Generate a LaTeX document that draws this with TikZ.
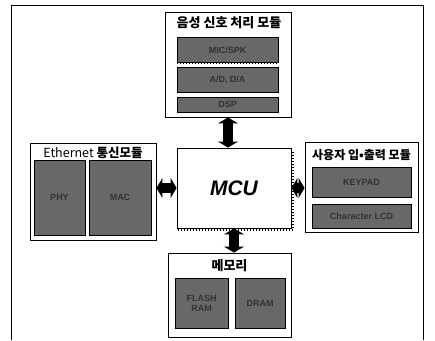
\documentclass[tikz,border=0pt]{standalone}
\usepackage{fontspec}
\setmainfont{Liberation Sans}
\newfontfamily\kr{Noto Sans CJK KR}
\usetikzlibrary{arrows.meta, positioning, calc}
\definecolor{chipgray}{HTML}{686868}

\begin{document}
\begin{tikzpicture}[x=1pt, y=-1pt,
    module/.style={draw=black, line width=0.9pt, fill=white},
    title/.style={font=\kr\bfseries\fontsize{13}{15}\selectfont},
    chip/.style={draw=black, line width=0.8pt, fill=chipgray, inner sep=1pt,
                 font=\bfseries\fontsize{9}{10}\selectfont, text=black!80, align=center},
    pins/.style={draw=black, line width=1.6pt, dash pattern=on 1.2pt off 1.8pt},
    bus/.style={line width=10pt, {Triangle[width=20pt,length=6pt]}-{Triangle[width=20pt,length=6pt]}},
]
    \useasboundingbox (0,0) rectangle (435,340);
    \draw[line width=0.8pt] (11,340) -- (11,5) -- (423,5) -- (423,340);

    % voice module
    \node[module, minimum width=126pt, minimum height=105pt] (voice) at (228,64.5) {};
    \node[title] at (229,23) {음성 신호 처리 모듈};
    \node[chip, minimum width=101pt, minimum height=25pt] (v1) at (227.5,50) {MIC/SPK};
    \node[chip, minimum width=101pt, minimum height=25pt] (v2) at (227.5,79.5) {A/D, D/A};
    \node[chip, minimum width=101pt, minimum height=15pt] (v3) at (227.5,104.5) {DSP};
    \foreach \c in {v1,v2,v3}
        \draw[pins] (\c.south west) -- (\c.south east);

    % mcu
    \node[module, minimum width=114pt, minimum height=80pt] (mcu) at (234,188) {};
    \node[font=\bfseries\itshape\fontsize{21}{24}\selectfont] at (mcu) {MCU};
    \draw[pins] ($(mcu.south west)+(1,1.5)$) -- ($(mcu.south east)+(1.5,1.5)$) -- ($(mcu.north east)+(1.5,4)$);

    % ethernet module
    \node[module, minimum width=126pt, minimum height=97pt] (eth) at (93,191.5) {};
    \node[font=\kr\fontsize{12.5}{15}\selectfont] at (93,153) {Ethernet {\bfseries 통신모듈}};
    \node[chip, minimum width=51pt, minimum height=75pt] (e1) at (59.5,197.5) {PHY};
    \node[chip, minimum width=62pt, minimum height=75pt] (e2) at (120,197.5) {MAC};
    \draw[pins] (e1.north east) -- (e1.south east);
    \draw[pins] (e2.south west) -- (e2.south east);

    % user i/o module
    \node[module, minimum width=113pt, minimum height=90pt] (io) at (361.5,187) {};
    \node[title, font=\kr\bfseries\fontsize{12}{14}\selectfont] at (361.5,155) {사용자 입•출력 모듈};
    \node[chip, minimum width=99pt, minimum height=30pt] (i1) at (361.5,182) {KEYPAD};
    \node[chip, minimum width=99pt, minimum height=24pt] (i2) at (361.5,216) {Character LCD};
    \foreach \c in {i1,i2}
        \draw[pins] (\c.south west) -- (\c.south east);

    % memory
    \node[module, minimum width=123pt, minimum height=84pt] (mem) at (229.5,295) {};
    \node[title] at (229.5,266) {메모리};
    \node[chip, minimum width=53pt, minimum height=50pt] (m1) at (201.5,303) {FLASH\\RAM};
    \node[chip, minimum width=50pt, minimum height=50pt] (m2) at (260,303) {DRAM};
    \foreach \c in {m1,m2}
        \draw[pins] (\c.south west) -- (\c.south east) -- (\c.north east);

    % buses
    \draw[bus] (voice.south) -- (voice.south |- mcu.north);
    \draw[bus] (mcu.west -| eth.east) -- (mcu.west);
    \draw[bus] (mcu.east) -- (mcu.east -| io.west);
    \draw[bus] (mcu.south) -- (mcu.south |- mem.north);
\end{tikzpicture}
\end{document}
